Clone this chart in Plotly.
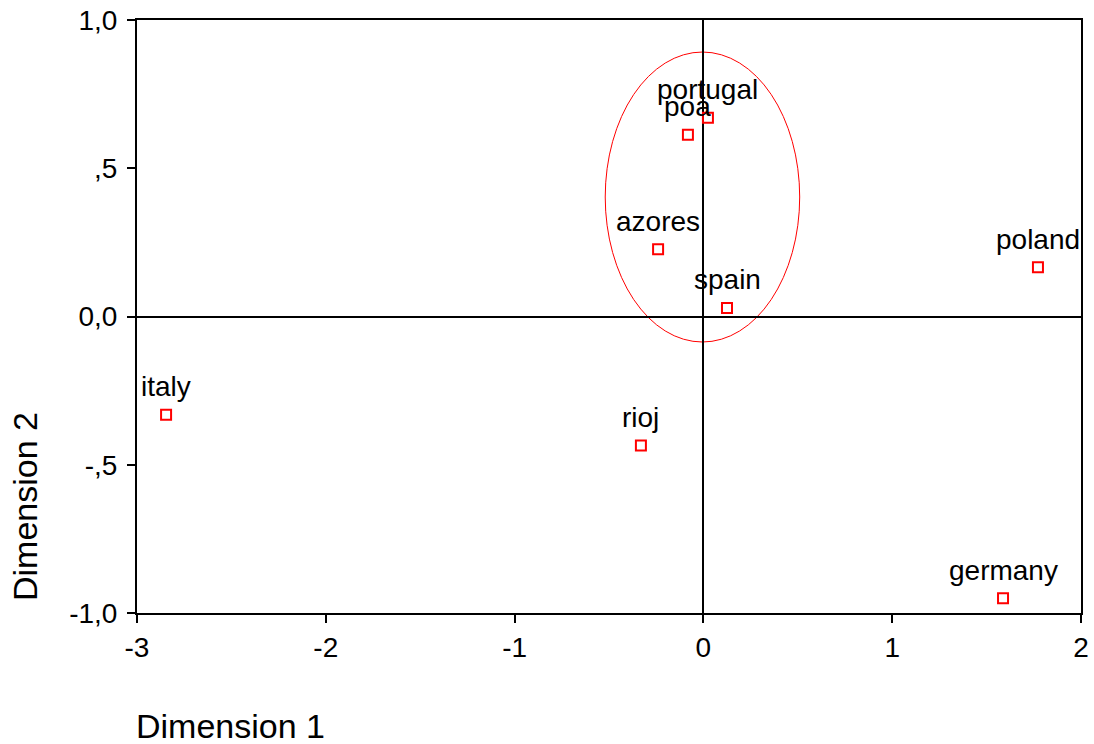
import plotly.graph_objects as go

labels = ["portugal", "poa", "azores", "spain", "poland", "italy", "rioj", "germany"]
dim1 = [0.024, -0.082, -0.24, 0.125, 1.772, -2.846, -0.331, 1.587]
dim2 = [0.67, 0.613, 0.227, 0.029, 0.166, -0.331, -0.435, -0.95]

y_tickvals = [-1.0, -0.5, 0.0, 0.5, 1.0]
y_ticktext = ["-1,0", "-,5", "0,0", ",5", "1,0"]
x_tickvals = [-3, -2, -1, 0, 1, 2]
x_ticktext = ["-3", "-2", "-1", "0", "1", "2"]

# ellipse bounds (data coords)
ell_x = [-0.52, 0.51]
ell_y = [-0.086, 0.892]

FONT = "Liberation Sans, Arial, sans-serif"

fig = go.Figure()
fig.add_trace(go.Scatter(
    x=dim1, y=dim2, mode="markers",
    marker=dict(symbol="square-open", size=10, color="#ff0000",
                line=dict(width=2, color="#ff0000")),
    hoverinfo="skip", showlegend=False,
))

for lab, xv, yv in zip(labels, dim1, dim2):
    fig.add_annotation(x=xv, y=yv, text=lab, showarrow=False,
                       yanchor="middle", xanchor="center", yshift=28,
                       font=dict(family=FONT, size=28, color="#000000"))

fig.add_shape(type="circle", xref="x", yref="y",
              x0=ell_x[0], x1=ell_x[1], y0=ell_y[0], y1=ell_y[1],
              line=dict(color="#ff0000", width=1), layer="below")

fig.add_annotation(text="Dimension 1", xref="paper", yref="paper",
                   x=0, y=0, xanchor="left", yanchor="middle",
                   yshift=-113, xshift=-3, showarrow=False,
                   font=dict(family=FONT, size=34, color="#000000"))
fig.add_annotation(text="Dimension 2", xref="paper", yref="paper",
                   x=0, y=0, xanchor="center", yanchor="middle",
                   textangle=-90, xshift=-112, yshift=106, showarrow=False,
                   font=dict(family=FONT, size=34, color="#000000"))

fig.update_layout(
    width=1094, height=744,
    margin=dict(l=137, r=5, t=18, b=131),
    paper_bgcolor="white", plot_bgcolor="white",
    font=dict(family=FONT, size=28, color="#000000"),
    xaxis=dict(range=[-3, 2], tickvals=x_tickvals, ticktext=x_ticktext,
               showgrid=False, zeroline=True, zerolinecolor="black", zerolinewidth=2,
               showline=True, linecolor="black", linewidth=2, mirror=True,
               ticks="outside", ticklen=8, tickwidth=2, tickcolor="black",
               ticklabeloverflow="allow", tickfont=dict(size=28)),
    yaxis=dict(range=[-1, 1], tickvals=y_tickvals, ticktext=y_ticktext,
               showgrid=False, zeroline=True, zerolinecolor="black", zerolinewidth=2,
               showline=True, linecolor="black", linewidth=2, mirror=True,
               ticks="outside", ticklen=8, tickwidth=2, tickcolor="black",
               ticklabeloverflow="allow", ticklabelstandoff=4, tickfont=dict(size=28)),
)

fig.write_html("out.html", config={"displayModeBar": False},
               post_script="document.body.style.margin='0px';document.body.style.overflow='hidden';")
